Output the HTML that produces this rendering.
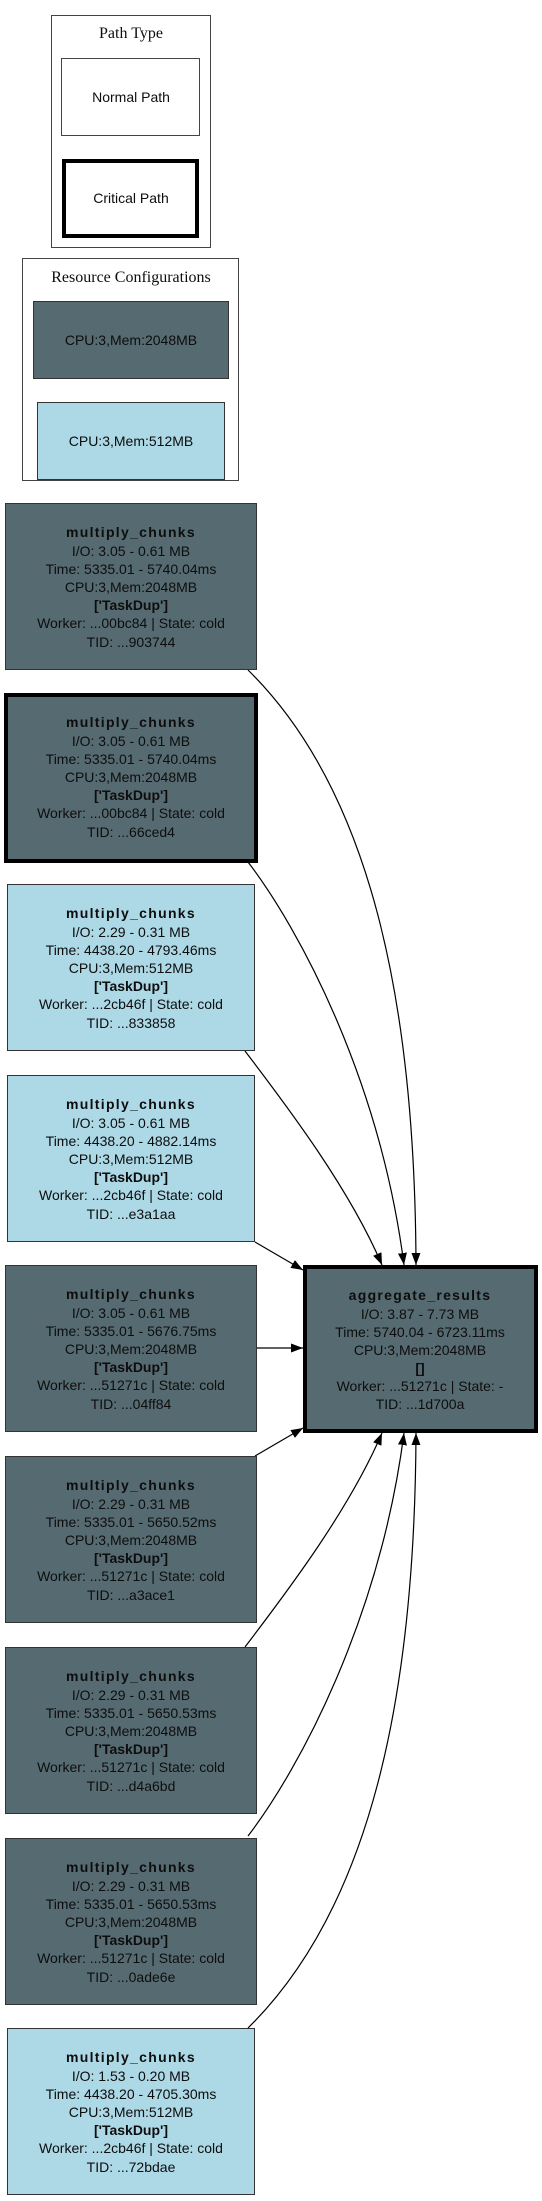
<!DOCTYPE html>
<html><head><meta charset="utf-8"><style>
html,body{margin:0;padding:0;background:#fff;}
svg{display:block;}
text{font-family:"Liberation Sans",Arial,sans-serif;font-size:14px;fill:#0d0d0d;text-anchor:middle;}
.t{font-weight:bold;letter-spacing:1.3px;}
.b{font-weight:bold;}
.s{font-family:"Liberation Serif","Times New Roman",serif;font-size:16px;}
</style></head><body>
<svg width="542" height="2201" viewBox="0 0 542 2201" xmlns="http://www.w3.org/2000/svg">
<defs>
<marker id="ah" markerUnits="userSpaceOnUse" markerWidth="13" markerHeight="10" refX="12" refY="4.5" orient="auto">
<path d="M0,0 L12,4.5 L0,9 z" fill="#000"/>
</marker>
</defs>

<rect x="51.5" y="15.5" width="159" height="232" fill="#fff" stroke="#444" stroke-width="1"/>
<text class="s" x="131" y="38">Path Type</text>
<rect x="61.5" y="58.5" width="138" height="77" fill="#fff" stroke="#444" stroke-width="1"/>
<text x="131" y="102">Normal Path</text>
<rect x="64" y="161" width="133" height="75" fill="#fff" stroke="#000" stroke-width="4"/>
<text x="131" y="203">Critical Path</text>

<rect x="22.5" y="258.5" width="216" height="222" fill="#fff" stroke="#444" stroke-width="1"/>
<text class="s" x="131" y="282">Resource Configurations</text>
<rect x="33.5" y="301.5" width="195" height="77" fill="#566b71" stroke="#333" stroke-width="1"/>
<text x="131" y="345">CPU:3,Mem:2048MB</text>
<rect x="37.5" y="402.5" width="187" height="77" fill="#add8e6" stroke="#333" stroke-width="1"/>
<text x="131" y="446">CPU:3,Mem:512MB</text>

<g fill="none" stroke="#000" stroke-width="1.2">
<path d="M248,670 C370,790 415,1000 416,1265" marker-end="url(#ah)"/>
<path d="M248,862 C300,930 380,1080 404,1265" marker-end="url(#ah)"/>
<path d="M245,1051 C290,1110 350,1190 382,1265" marker-end="url(#ah)"/>
<path d="M255,1242 L303,1270" marker-end="url(#ah)"/>
<path d="M257,1348 L303,1348" marker-end="url(#ah)"/>
<g transform="matrix(1,0,0,-1,0,2698)">
<path d="M248,670 C370,790 415,1000 416,1265" marker-end="url(#ah)"/>
<path d="M248,862 C300,930 380,1080 404,1265" marker-end="url(#ah)"/>
<path d="M245,1051 C290,1110 350,1190 382,1265" marker-end="url(#ah)"/>
<path d="M255,1242 L303,1270" marker-end="url(#ah)"/>
</g>
</g>

<rect x="5.5" y="503.5" width="251" height="166" fill="#566b71" stroke="#333"/>
<text class="t" x="131" y="537">multiply_chunks</text>
<text x="131" y="556">I/O: 3.05 - 0.61 MB</text>
<text x="131" y="574">Time: 5335.01 - 5740.04ms</text>
<text x="131" y="592">CPU:3,Mem:2048MB</text>
<text class="b" x="131" y="610">['TaskDup']</text>
<text x="131" y="628">Worker: ...00bc84 | State: cold</text>
<text x="131" y="647">TID: ...903744</text>

<rect x="6" y="695" width="250" height="166" fill="#566b71" stroke="#000" stroke-width="4"/>
<text class="t" x="131" y="727">multiply_chunks</text>
<text x="131" y="746">I/O: 3.05 - 0.61 MB</text>
<text x="131" y="764">Time: 5335.01 - 5740.04ms</text>
<text x="131" y="782">CPU:3,Mem:2048MB</text>
<text class="b" x="131" y="800">['TaskDup']</text>
<text x="131" y="818">Worker: ...00bc84 | State: cold</text>
<text x="131" y="837">TID: ...66ced4</text>

<rect x="7.5" y="884.5" width="247" height="166" fill="#add8e6" stroke="#333"/>
<text class="t" x="131" y="918">multiply_chunks</text>
<text x="131" y="937">I/O: 2.29 - 0.31 MB</text>
<text x="131" y="955">Time: 4438.20 - 4793.46ms</text>
<text x="131" y="973">CPU:3,Mem:512MB</text>
<text class="b" x="131" y="991">['TaskDup']</text>
<text x="131" y="1009">Worker: ...2cb46f | State: cold</text>
<text x="131" y="1028">TID: ...833858</text>

<rect x="7.5" y="1075.5" width="247" height="166" fill="#add8e6" stroke="#333"/>
<text class="t" x="131" y="1109">multiply_chunks</text>
<text x="131" y="1128">I/O: 3.05 - 0.61 MB</text>
<text x="131" y="1146">Time: 4438.20 - 4882.14ms</text>
<text x="131" y="1164">CPU:3,Mem:512MB</text>
<text class="b" x="131" y="1182">['TaskDup']</text>
<text x="131" y="1200">Worker: ...2cb46f | State: cold</text>
<text x="131" y="1219">TID: ...e3a1aa</text>

<rect x="5.5" y="1265.5" width="251" height="166" fill="#566b71" stroke="#333"/>
<text class="t" x="131" y="1299">multiply_chunks</text>
<text x="131" y="1318">I/O: 3.05 - 0.61 MB</text>
<text x="131" y="1336">Time: 5335.01 - 5676.75ms</text>
<text x="131" y="1354">CPU:3,Mem:2048MB</text>
<text class="b" x="131" y="1372">['TaskDup']</text>
<text x="131" y="1390">Worker: ...51271c | State: cold</text>
<text x="131" y="1409">TID: ...04ff84</text>

<rect x="5.5" y="1456.5" width="251" height="166" fill="#566b71" stroke="#333"/>
<text class="t" x="131" y="1490">multiply_chunks</text>
<text x="131" y="1509">I/O: 2.29 - 0.31 MB</text>
<text x="131" y="1527">Time: 5335.01 - 5650.52ms</text>
<text x="131" y="1545">CPU:3,Mem:2048MB</text>
<text class="b" x="131" y="1563">['TaskDup']</text>
<text x="131" y="1581">Worker: ...51271c | State: cold</text>
<text x="131" y="1600">TID: ...a3ace1</text>

<rect x="5.5" y="1647.5" width="251" height="166" fill="#566b71" stroke="#333"/>
<text class="t" x="131" y="1681">multiply_chunks</text>
<text x="131" y="1700">I/O: 2.29 - 0.31 MB</text>
<text x="131" y="1718">Time: 5335.01 - 5650.53ms</text>
<text x="131" y="1736">CPU:3,Mem:2048MB</text>
<text class="b" x="131" y="1754">['TaskDup']</text>
<text x="131" y="1772">Worker: ...51271c | State: cold</text>
<text x="131" y="1791">TID: ...d4a6bd</text>

<rect x="5.5" y="1838.5" width="251" height="166" fill="#566b71" stroke="#333"/>
<text class="t" x="131" y="1872">multiply_chunks</text>
<text x="131" y="1891">I/O: 2.29 - 0.31 MB</text>
<text x="131" y="1909">Time: 5335.01 - 5650.53ms</text>
<text x="131" y="1927">CPU:3,Mem:2048MB</text>
<text class="b" x="131" y="1945">['TaskDup']</text>
<text x="131" y="1963">Worker: ...51271c | State: cold</text>
<text x="131" y="1982">TID: ...0ade6e</text>

<rect x="7.5" y="2028.5" width="247" height="166" fill="#add8e6" stroke="#333"/>
<text class="t" x="131" y="2062">multiply_chunks</text>
<text x="131" y="2081">I/O: 1.53 - 0.20 MB</text>
<text x="131" y="2099">Time: 4438.20 - 4705.30ms</text>
<text x="131" y="2117">CPU:3,Mem:512MB</text>
<text class="b" x="131" y="2135">['TaskDup']</text>
<text x="131" y="2153">Worker: ...2cb46f | State: cold</text>
<text x="131" y="2172">TID: ...72bdae</text>

<rect x="305" y="1267" width="231" height="164" fill="#566b71" stroke="#000" stroke-width="4"/>
<text class="t" x="420" y="1300">aggregate_results</text>
<text x="420" y="1319">I/O: 3.87 - 7.73 MB</text>
<text x="420" y="1337">Time: 5740.04 - 6723.11ms</text>
<text x="420" y="1355">CPU:3,Mem:2048MB</text>
<text class="b" x="420" y="1373">[]</text>
<text x="420" y="1391">Worker: ...51271c | State: -</text>
<text x="420" y="1409">TID: ...1d700a</text>
</svg>
</body></html>
